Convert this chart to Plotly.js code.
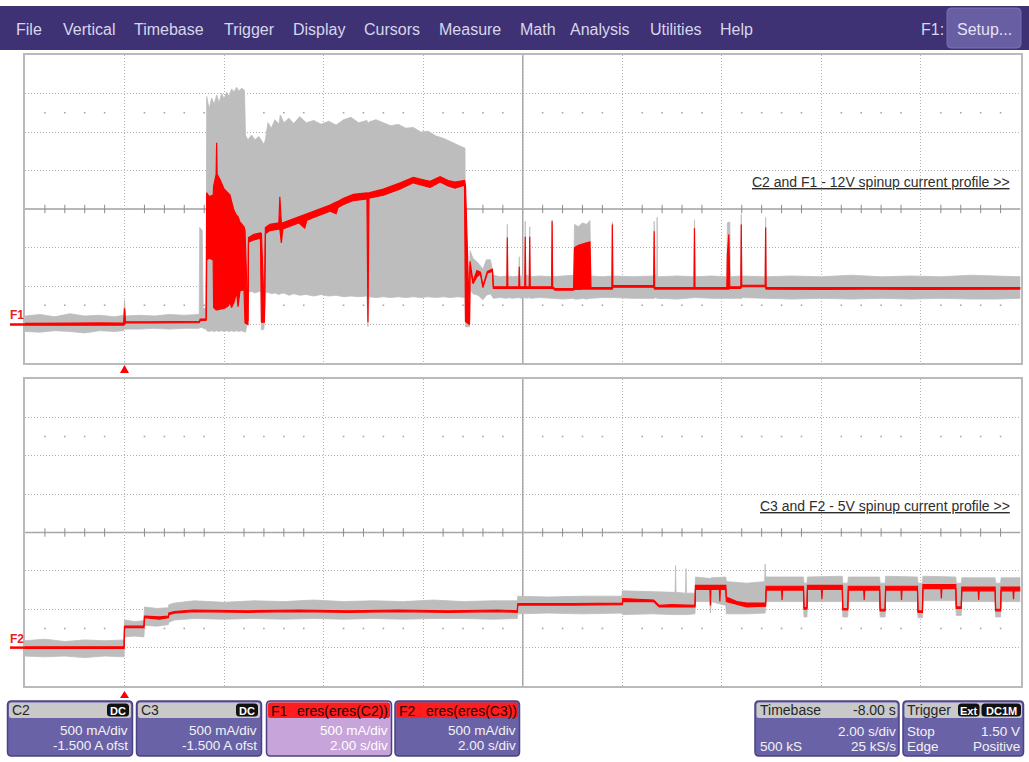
<!DOCTYPE html>
<html>
<head>
<meta charset="utf-8">
<script src="https://cdn.plot.ly/plotly-3.0.1.min.js"></script>
<style>
html,body{margin:0;padding:0;background:#fff;}
#plot{width:1029px;height:762px;}
</style>
</head>
<body>
<div id="plot"></div>
<script>
// ---------------- DATA (time in s, current in A) ----------------
// Each row: [time, envelope max, envelope min]
const UP_C2 = [
 [-2.00,0.11,-0.09],[-1.70,0.13,-0.10],[-1.40,0.10,-0.08],[-1.10,0.14,-0.09],[-0.80,0.11,-0.11],
 [-0.50,0.12,-0.08],[-0.20,0.10,-0.09],[-0.02,0.12,-0.08],[0.00,0.32,-0.06],[0.02,0.11,-0.06],
 [0.30,0.12,-0.06],[0.60,0.11,-0.05],[0.90,0.13,-0.06],[1.20,0.12,-0.05],[1.50,0.13,-0.05],
 [1.51,1.26,-0.04],[1.56,1.22,-0.04],[1.58,0.20,-0.05],[1.64,0.22,-0.06],[1.65,2.96,-0.08],
 [1.70,2.80,-0.09],[1.75,2.94,-0.08],[1.80,2.86,-0.09],[1.85,2.98,-0.08],[1.90,2.88,-0.09],
 [1.95,3.00,-0.08],[2.00,2.93,-0.09],[2.05,3.02,-0.08],[2.10,2.96,-0.09],[2.15,3.06,-0.08],
 [2.20,3.02,-0.09],[2.25,3.08,-0.08],[2.30,3.03,-0.09],[2.35,3.07,-0.08],[2.41,3.04,-0.10],
 [2.43,2.46,-0.10],[2.46,2.42,0.00],[2.48,2.40,0.42],[2.55,2.46,0.43],[2.62,2.40,0.41],
 [2.70,2.44,0.43],[2.74,2.40,0.42],[2.75,2.38,-0.07],[2.80,2.34,-0.06],[2.83,2.40,0.41],
 [2.88,2.62,0.42],[2.95,2.55,0.40],[3.02,2.66,0.41],[3.10,2.60,0.39],[3.13,2.72,0.40],
 [3.20,2.62,0.41],[3.30,2.68,0.38],[3.40,2.61,0.40],[3.52,2.70,0.38],[3.65,2.62,0.39],
 [3.80,2.65,0.37],[3.95,2.60,0.39],[4.10,2.64,0.37],[4.25,2.59,0.38],[4.40,2.66,0.36],
 [4.55,2.69,0.37],[4.70,2.62,0.36],[4.87,2.65,0.37],[4.89,2.60,-0.03],[4.91,2.63,0.36],
 [5.05,2.66,0.35],[5.20,2.62,0.36],[5.35,2.58,0.35],[5.50,2.60,0.36],[5.65,2.55,0.35],
 [5.80,2.56,0.36],[5.95,2.50,0.35],[6.10,2.51,0.36],[6.25,2.45,0.35],[6.40,2.42,0.36],
 [6.55,2.37,0.35],[6.70,2.33,0.36],[6.84,2.29,0.35],[6.85,0.12,-0.03],[6.93,0.10,-0.03],
 [6.94,0.96,0.46],[7.00,0.86,0.40],[7.10,0.80,0.38],[7.20,0.72,0.32],[7.27,0.84,0.38],
 [7.35,0.84,0.40],[7.41,0.64,0.34],[7.55,0.62,0.35],[7.68,0.63,0.34],[7.69,1.30,0.34],
 [7.70,0.63,0.35],[7.80,0.62,0.34],[7.92,0.63,0.35],[7.93,0.88,0.35],[7.94,0.63,0.34],
 [8.04,0.62,0.35],[8.05,1.34,0.35],[8.06,0.64,0.34],[8.13,0.63,0.35],[8.14,1.27,0.35],
 [8.15,0.62,0.34],[8.35,0.63,0.35],[8.58,0.62,0.34],[8.59,1.36,0.34],[8.60,0.62,0.34],
 [8.80,0.63,0.33],[9.02,0.64,0.34],[9.04,1.30,0.33],[9.12,1.27,0.33],[9.20,1.32,0.34],
 [9.28,1.30,0.33],[9.35,1.35,0.34],[9.37,0.63,0.34],[9.60,0.62,0.35],[9.79,0.63,0.35],
 [9.80,1.33,0.35],[9.81,0.63,0.35],[10.20,0.62,0.34],[10.63,0.63,0.34],[10.64,1.34,0.34],
 [10.66,0.64,0.35],[10.69,0.63,0.34],[10.70,1.39,0.34],[10.71,0.62,0.34],[11.10,0.63,0.33],
 [11.44,0.62,0.34],[11.45,1.36,0.34],[11.46,0.62,0.35],[11.80,0.63,0.34],[12.10,0.62,0.34],
 [12.11,1.32,0.34],[12.16,1.33,0.34],[12.17,0.62,0.34],[12.38,0.63,0.34],[12.39,1.43,0.33],
 [12.40,0.63,0.35],[12.87,0.62,0.34],[12.88,1.39,0.34],[12.89,0.62,0.34],[13.40,0.63,0.33],
 [14.00,0.62,0.34],[14.60,0.64,0.33],[15.20,0.62,0.34],[15.80,0.63,0.33],[16.40,0.62,0.34],
 [17.00,0.64,0.33],[17.50,0.63,0.33],[18.00,0.62,0.34]
];
const UP_F1 = [
 [-2.00,0.015,-0.010],[-1.50,0.020,-0.012],[-1.00,0.018,-0.010],[-0.50,0.020,-0.012],[-0.02,0.018,-0.010],
 [0.00,0.210,0.000],[0.02,0.035,0.020],[0.50,0.035,0.022],[1.00,0.037,0.020],[1.50,0.040,0.025],
 [1.52,0.070,0.050],[1.64,0.075,0.055],[1.65,1.710,0.840],[1.70,1.660,0.860],[1.78,1.680,0.840],
 [1.79,1.800,0.220],[1.84,1.950,0.190],[1.85,2.360,0.190],[1.86,1.950,0.190],[1.92,1.880,0.200],
 [2.00,1.760,0.210],[2.08,1.700,0.240],[2.12,1.680,0.290],[2.15,1.600,0.220],[2.20,1.480,0.290],
 [2.25,1.420,0.420],[2.28,1.400,0.230],[2.32,1.330,0.440],[2.40,1.270,0.450],[2.42,1.220,0.020],
 [2.48,0.050,0.000],[2.49,1.130,1.070],[2.60,1.170,1.100],[2.73,1.190,1.120],[2.75,1.180,0.030],
 [2.81,0.100,0.030],[2.83,1.260,1.180],[2.92,1.300,1.220],[3.10,1.320,1.240],[3.12,1.660,1.240],
 [3.15,1.320,1.060],[3.18,1.320,1.240],[3.50,1.400,1.320],[3.62,1.430,1.250],[3.66,1.430,1.350],
 [3.80,1.470,1.390],[4.13,1.550,1.470],[4.25,1.590,1.440],[4.29,1.600,1.520],[4.40,1.640,1.560],
 [4.60,1.690,1.610],[4.87,1.710,1.630],[4.89,1.700,0.030],[4.91,1.710,1.640],[5.20,1.760,1.680],
 [5.54,1.840,1.760],[5.80,1.910,1.840],[6.00,1.880,1.800],[6.14,1.860,1.780],[6.34,1.920,1.850],
 [6.50,1.870,1.800],[6.64,1.850,1.770],[6.83,1.870,1.810],[6.85,1.800,0.040],
 [6.93,0.060,0.000],[6.94,0.820,0.760],[7.00,0.560,0.530],[7.08,0.700,0.620],[7.15,0.680,0.660],
 [7.20,0.500,0.480],[7.29,0.690,0.670],[7.39,0.720,0.690],[7.41,0.490,0.470],[7.68,0.490,0.470],
 [7.69,1.130,0.470],[7.70,0.490,0.470],[7.92,0.490,0.470],[7.93,0.750,0.470],[7.94,0.490,0.470],
 [8.04,0.490,0.470],[8.05,1.140,0.470],[8.06,0.490,0.470],[8.13,0.490,0.470],[8.14,1.140,0.470],
 [8.15,0.490,0.470],[8.58,0.490,0.470],[8.59,1.340,0.470],[8.60,0.490,0.470],[8.65,0.465,0.445],
 [9.02,0.465,0.445],[9.04,1.000,0.460],[9.12,1.030,0.455],[9.20,1.050,0.460],[9.28,1.060,0.455],
 [9.35,1.070,0.460],[9.37,0.480,0.460],[9.79,0.480,0.460],[9.80,1.300,0.460],[9.81,0.505,0.485],
 [10.63,0.505,0.485],[10.64,1.210,0.470],[10.65,0.480,0.460],[11.44,0.480,0.460],[11.45,1.250,0.460],
 [11.46,0.480,0.460],[12.10,0.480,0.460],[12.11,0.900,0.460],[12.14,1.170,0.460],[12.16,0.490,0.470],
 [12.38,0.490,0.470],[12.39,1.300,0.480],[12.40,0.510,0.490],[12.87,0.510,0.490],[12.88,1.260,0.470],
 [12.89,0.480,0.460],[14.00,0.480,0.455],[15.00,0.480,0.460],[16.00,0.475,0.455],[17.00,0.480,0.460],
 [18.00,0.480,0.460]
];
const LO_C3 = [
 [-2.00,0.09,-0.11],[-1.60,0.11,-0.12],[-1.20,0.08,-0.11],[-0.80,0.10,-0.13],[-0.40,0.09,-0.11],
 [-0.01,0.10,-0.12],[0.00,0.36,0.14],[0.20,0.34,0.15],[0.39,0.35,0.14],[0.40,0.53,0.29],
 [0.65,0.51,0.28],[0.88,0.52,0.30],[0.89,0.56,0.33],[1.00,0.58,0.36],[1.40,0.61,0.38],
 [2.00,0.59,0.37],[2.60,0.61,0.38],[3.20,0.60,0.37],[3.80,0.62,0.38],[4.40,0.60,0.37],
 [5.00,0.61,0.38],[5.60,0.60,0.37],[6.20,0.62,0.38],[6.80,0.60,0.38],[7.40,0.61,0.37],
 [7.89,0.61,0.38],[7.90,0.67,0.44],[8.50,0.66,0.45],[9.20,0.67,0.44],[9.99,0.67,0.45],
 [10.00,0.74,0.43],[10.60,0.73,0.44],[11.06,0.72,0.43],[11.07,1.07,0.43],[11.08,0.72,0.43],
 [11.27,0.71,0.43],[11.28,1.03,0.43],[11.29,0.71,0.43],[11.46,0.71,0.44],[11.47,0.92,0.60],
 [11.76,0.91,0.60],[11.77,0.90,0.45],[11.79,0.91,0.60],[12.08,0.92,0.55],[12.09,0.86,0.44],
 [12.50,0.84,0.44],[12.86,0.86,0.45],[12.87,1.09,0.45],[12.88,0.92,0.60],[13.64,0.92,0.60],
 [13.65,0.84,0.40],[13.71,0.84,0.40],[13.72,0.92,0.60],[14.42,0.93,0.60],[14.43,0.84,0.40],
 [14.53,0.84,0.40],[14.54,0.92,0.60],[15.17,0.92,0.60],[15.18,0.84,0.40],[15.28,0.84,0.40],
 [15.29,0.93,0.60],[15.93,0.92,0.60],[15.94,0.84,0.39],[16.03,0.84,0.39],[16.04,0.93,0.61],
 [16.70,0.92,0.61],[16.71,0.84,0.42],[16.81,0.84,0.42],[16.82,0.91,0.60],[17.49,0.91,0.60],
 [17.50,0.84,0.40],[17.60,0.84,0.40],[17.61,0.91,0.60],[18.00,0.91,0.60]
];
const LO_F2 = [
 [-2.00,0.010,-0.010],[-0.01,0.010,-0.010],[0.00,0.280,0.260],[0.39,0.280,0.260],[0.40,0.410,0.390],
 [0.70,0.400,0.370],[0.88,0.410,0.390],[0.89,0.450,0.430],[1.00,0.470,0.450],[1.38,0.490,0.470],
 [2.50,0.480,0.460],[3.50,0.490,0.470],[4.50,0.480,0.460],[5.50,0.490,0.470],[6.50,0.480,0.460],
 [7.50,0.490,0.470],[7.89,0.480,0.460],[7.90,0.575,0.555],[9.00,0.575,0.555],[10.00,0.580,0.560],
 [10.01,0.640,0.600],[10.30,0.630,0.600],[10.63,0.620,0.600],[10.74,0.550,0.530],[11.00,0.560,0.530],
 [11.46,0.550,0.530],[11.47,0.810,0.760],[11.76,0.810,0.760],[11.77,0.800,0.550],[11.78,0.810,0.760],
 [11.95,0.810,0.760],[11.96,0.800,0.600],[11.97,0.810,0.760],[12.08,0.810,0.760],[12.09,0.660,0.600],
 [12.30,0.600,0.560],[12.50,0.580,0.530],[12.88,0.580,0.540],[12.89,0.800,0.750],[13.20,0.800,0.750],
 [13.21,0.800,0.620],[13.22,0.800,0.750],[13.64,0.800,0.750],[13.65,0.520,0.500],[13.71,0.520,0.500],
 [13.72,0.810,0.760],[14.00,0.810,0.760],[14.01,0.810,0.630],[14.02,0.810,0.760],[14.42,0.810,0.760],
 [14.43,0.510,0.490],[14.53,0.510,0.490],[14.54,0.800,0.750],[14.85,0.800,0.750],[14.86,0.800,0.620],
 [14.87,0.800,0.750],[15.17,0.800,0.750],[15.18,0.500,0.480],[15.28,0.500,0.480],[15.29,0.800,0.750],
 [15.60,0.800,0.750],[15.61,0.800,0.620],[15.62,0.800,0.750],[15.93,0.800,0.750],[15.94,0.480,0.460],
 [16.03,0.480,0.460],[16.04,0.820,0.770],[16.40,0.820,0.770],[16.41,0.820,0.640],[16.42,0.820,0.770],
 [16.70,0.820,0.770],[16.71,0.530,0.510],[16.81,0.530,0.510],[16.82,0.790,0.740],[17.15,0.790,0.740],
 [17.16,0.790,0.620],[17.17,0.790,0.740],[17.49,0.790,0.740],[17.50,0.500,0.480],[17.60,0.500,0.480],
 [17.61,0.790,0.740],[17.85,0.790,0.740],[17.86,0.790,0.630],[17.87,0.790,0.740],[18.00,0.790,0.740]
];
const MENU_ITEMS = ["File","Vertical","Timebase","Trigger","Display","Cursors","Measure","Math","Analysis","Utilities","Help"];
const MENU_X = [15,62,133,223,292,363,438,519,569,649,719];
const LABEL_UP = "C2 and F1 - 12V spinup current profile >>";
const LABEL_LO = "C3 and F2 - 5V spinup current profile >>";
const T_RANGE = [-2, 18];   // -8.00 s delay, 2.00 s/div, 10 div
const A_RANGE = [-0.5, 3.5]; // 500 mA/div, -1.500 A offset, 8 div

// ---------------- helpers ----------------
const W = 1029, H = 762;
const px = x => x / W;
const py = y => 1 - y / H;
const FONT = "Liberation Sans, Arial, sans-serif";
const col = (arr, i) => arr.map(r => r[i]);

function envTraces(arr, xa, ya, lineColor, fillColor, lw) {
  const t = col(arr, 0);
  return [
    {x: t, y: col(arr, 2), xaxis: xa, yaxis: ya, type: 'scatter', mode: 'lines',
     line: {color: lineColor, width: lw, shape: 'linear'}, hoverinfo: 'skip'},
    {x: t, y: col(arr, 1), xaxis: xa, yaxis: ya, type: 'scatter', mode: 'lines',
     line: {color: lineColor, width: lw}, fill: 'tonexty', fillcolor: fillColor, hoverinfo: 'skip'}
  ];
}

// graticule minor marks (1/5 division)
const minorT = [];
for (let k = 0; k <= 50; k++) { if (k % 5 !== 0) minorT.push(T_RANGE[0] + 0.4 * k); }
function graticule(xa, ya) {
  return [
    {x: minorT, y: minorT.map(() => 1.5), xaxis: xa, yaxis: ya, type: 'scatter', mode: 'markers',
     marker: {symbol: 'line-ns', size: 6, line: {color: '#8c8c8c', width: 1}}, hoverinfo: 'skip'},
    {x: minorT.concat(minorT), y: minorT.map(() => 2.75).concat(minorT.map(() => 0.25)),
     xaxis: xa, yaxis: ya, type: 'scatter', mode: 'markers',
     marker: {symbol: 'square', size: 1.6, color: '#a6a6a6'}, hoverinfo: 'skip'}
  ];
}

const GRAY_LINE = '#bcbcbc', GRAY_FILL = '#bdbdbd', RED = '#ff0000';
const data = [].concat(
  graticule('x', 'y'), graticule('x2', 'y2'),
  envTraces(UP_C2, 'x', 'y', GRAY_LINE, GRAY_FILL, 0.8),
  envTraces(UP_F1, 'x', 'y', RED, RED, 1.2),
  envTraces(LO_C3, 'x2', 'y2', GRAY_LINE, GRAY_FILL, 0.8),
  envTraces(LO_F2, 'x2', 'y2', RED, RED, 1.2)
);

function xAx(anchor) {
  return {domain: [px(25), px(1020.5)], range: T_RANGE, dtick: 2, tick0: 0, anchor: anchor,
    showgrid: true, gridcolor: '#b3b3b3', griddash: '1px,2px', gridwidth: 1,
    showline: true, linecolor: '#bababa', linewidth: 2, mirror: true,
    showticklabels: false, ticks: '', zeroline: false, fixedrange: true};
}
function yAx(anchor, top, bottom) {
  return {domain: [py(bottom), py(top)], range: A_RANGE, dtick: 0.5, tick0: 0, anchor: anchor,
    showgrid: true, gridcolor: '#b3b3b3', griddash: '1px,2px', gridwidth: 1,
    showline: true, linecolor: '#bababa', linewidth: 2, mirror: true,
    showticklabels: false, ticks: '', zeroline: false, fixedrange: true};
}

function rr(x0, y0, x1, y1, r) {
  const P = (x, y) => px(x) + ',' + py(y);
  return 'M' + P(x0 + r, y0) + ' L' + P(x1 - r, y0) + ' Q' + P(x1, y0) + ' ' + P(x1, y0 + r) +
    ' L' + P(x1, y1 - r) + ' Q' + P(x1, y1) + ' ' + P(x1 - r, y1) +
    ' L' + P(x0 + r, y1) + ' Q' + P(x0, y1) + ' ' + P(x0, y1 - r) +
    ' L' + P(x0, y0 + r) + ' Q' + P(x0, y0) + ' ' + P(x0 + r, y0) + ' Z';
}
function shapePath(path, fill, lineColor, lw) {
  return {type: 'path', xref: 'paper', yref: 'paper', path: path, fillcolor: fill,
    line: {color: lineColor || fill, width: lw === undefined ? 0 : lw}, layer: 'above'};
}
function rect(x0, y0, x1, y1, fill) {
  return {type: 'rect', xref: 'paper', yref: 'paper', x0: px(x0), x1: px(x1), y0: py(y1), y1: py(y0),
    fillcolor: fill, line: {width: 0}, layer: 'above'};
}
function ann(text, x, y, anchor, size, color, extra) {
  return Object.assign({text: text, xref: 'paper', yref: 'paper', x: px(x), y: py(y),
    xanchor: anchor, yanchor: 'middle', showarrow: false, borderpad: 0,
    font: {family: FONT, size: size, color: color}}, extra || {});
}

const shapes = [];
const annotations = [];

// menu bar
shapes.push(rect(0, 6, 1029, 50, '#3e3274'));
shapes.push(shapePath(rr(947, 8, 1021, 48, 4), '#675ea3', '#7a71b3', 1));
MENU_ITEMS.forEach((m, i) => annotations.push(ann(m, MENU_X[i], 29, 'left', 16, '#d8d6ec')));
annotations.push(ann('F1:', 920, 29, 'left', 16, '#d8d6ec'));
annotations.push(ann('Setup...', 984, 29, 'center', 16, '#e4e2f4'));

// centre lines of graticule
[['x', 'y'], ['x2', 'y2']].forEach(([xa, ya]) => {
  shapes.push({type: 'line', xref: xa, yref: ya, x0: 8, x1: 8, y0: A_RANGE[0], y1: A_RANGE[1],
    line: {color: '#a2a2a2', width: 1.5}, layer: 'below'});
  shapes.push({type: 'line', xref: xa, yref: ya, x0: T_RANGE[0], x1: T_RANGE[1], y0: 1.5, y1: 1.5,
    line: {color: '#a2a2a2', width: 1.5}, layer: 'below'});
});

// trace ground markers
shapes.push({type: 'line', xref: 'paper', yref: 'y', x0: px(10), x1: px(25), y0: 0, y1: 0,
  line: {color: RED, width: 2.5}, layer: 'above'});
shapes.push({type: 'line', xref: 'paper', yref: 'y2', x0: px(10), x1: px(25), y0: 0, y1: 0,
  line: {color: RED, width: 2.5}, layer: 'above'});
annotations.push(ann('F1', 9, 315, 'left', 12, '#e82020', {font: {family: FONT, size: 12, color: '#e82020', weight: 'bold'}}));
annotations.push(ann('F2', 9, 639, 'left', 12, '#e82020', {font: {family: FONT, size: 12, color: '#e82020', weight: 'bold'}}));

// trigger markers
function tri(cx, yTop, yBot) {
  const P = (x, y) => px(x) + ',' + py(y);
  return 'M' + P(cx - 4.5, yBot) + ' L' + P(cx + 4.5, yBot) + ' L' + P(cx, yTop) + ' Z';
}
shapes.push(shapePath(tri(124.5, 365, 373), RED));
shapes.push(shapePath(tri(124.5, 691, 698), RED));

// panel labels
annotations.push(ann('<u>' + LABEL_UP + '</u>', 1011, 182, 'right', 14, '#2e2e2e'));
annotations.push(ann('<u>' + LABEL_LO + '</u>', 1011, 506, 'right', 14, '#2e2e2e'));

// info boxes
const BODY = '#6a62a6', BORDER = '#4a4284', HEAD = '#c9c9c9', HRED = '#ff1d1d';
function box(x0, x1, headColor, bodyColor) {
  shapes.push(shapePath(rr(x0, 701, x1, 756, 4), bodyColor, BORDER, 1.5));
  shapes.push(shapePath(rr(x0 + 1.5, 702.5, x1 - 1.5, 718, 2.5), headColor));
}
function badge(x0, x1, text) {
  shapes.push(shapePath(rr(x0, 703.5, x1, 716.5, 3.5), '#111111'));
  annotations.push(ann(text, (x0 + x1) / 2, 710.5, 'center', 11, '#ffffff', {font: {family: FONT, size: 11, color: '#ffffff', weight: 'bold'}}));
}
const TXT = '#f2f2f6', HTXT = '#262626';
box(7.5, 132.5, HEAD, BODY);
annotations.push(ann('C2', 10.5, 710, 'left', 14, HTXT));
badge(107, 129, 'DC');
annotations.push(ann('500 mA/div', 129, 730, 'right', 13.5, TXT));
annotations.push(ann('-1.500 A ofst', 129, 745.5, 'right', 13.5, TXT));

box(136.5, 261.5, HEAD, BODY);
annotations.push(ann('C3', 139.5, 710, 'left', 14, HTXT));
badge(236, 258, 'DC');
annotations.push(ann('500 mA/div', 258, 730, 'right', 13.5, TXT));
annotations.push(ann('-1.500 A ofst', 258, 745.5, 'right', 13.5, TXT));

box(266.5, 391.5, HRED, '#c7a4da');
annotations.push(ann('F1', 270, 710.5, 'left', 14, '#2a0606'));
annotations.push(ann('eres(eres(C2))', 389, 710.5, 'right', 14, '#2a0606'));
annotations.push(ann('500 mA/div', 388.5, 730, 'right', 13.5, '#ffffff'));
annotations.push(ann('2.00 s/div', 388.5, 745.5, 'right', 13.5, '#ffffff'));

box(395, 519.5, HRED, BODY);
annotations.push(ann('F2', 398, 710.5, 'left', 14, '#2a0606'));
annotations.push(ann('eres(eres(C3))', 517.5, 710.5, 'right', 14, '#2a0606'));
annotations.push(ann('500 mA/div', 516.5, 730, 'right', 13.5, TXT));
annotations.push(ann('2.00 s/div', 516.5, 745.5, 'right', 13.5, TXT));

box(755, 899, HEAD, BODY);
annotations.push(ann('Timebase', 758.5, 710, 'left', 14, HTXT));
annotations.push(ann('-8.00 s', 896.5, 710, 'right', 14, HTXT));
annotations.push(ann('2.00 s/div', 896.5, 731, 'right', 13.5, TXT));
annotations.push(ann('500 kS', 758.5, 746.5, 'left', 13.5, TXT));
annotations.push(ann('25 kS/s', 896.5, 746.5, 'right', 13.5, TXT));

box(903, 1023.5, HEAD, BODY);
annotations.push(ann('Trigger', 905.5, 710, 'left', 14, HTXT));
badge(958, 979.5, 'Ext');
badge(981.5, 1021, 'DC1M');
annotations.push(ann('Stop', 905.5, 731, 'left', 13.5, TXT));
annotations.push(ann('1.50 V', 1020.5, 731, 'right', 13.5, TXT));
annotations.push(ann('Edge', 905.5, 746.5, 'left', 13.5, TXT));
annotations.push(ann('Positive', 1020.5, 746.5, 'right', 13.5, TXT));

const layout = {
  width: W, height: H, margin: {l: 0, r: 0, t: 0, b: 0, pad: 0},
  paper_bgcolor: '#ffffff', plot_bgcolor: '#ffffff', showlegend: false,
  xaxis: xAx('y'), yaxis: yAx('x', 55, 363),
  xaxis2: xAx('y2'), yaxis2: yAx('x2', 379, 686),
  shapes: shapes, annotations: annotations, hovermode: false
};

Plotly.newPlot('plot', data, layout, {staticPlot: true, displayModeBar: false});
</script>
</body>
</html>
